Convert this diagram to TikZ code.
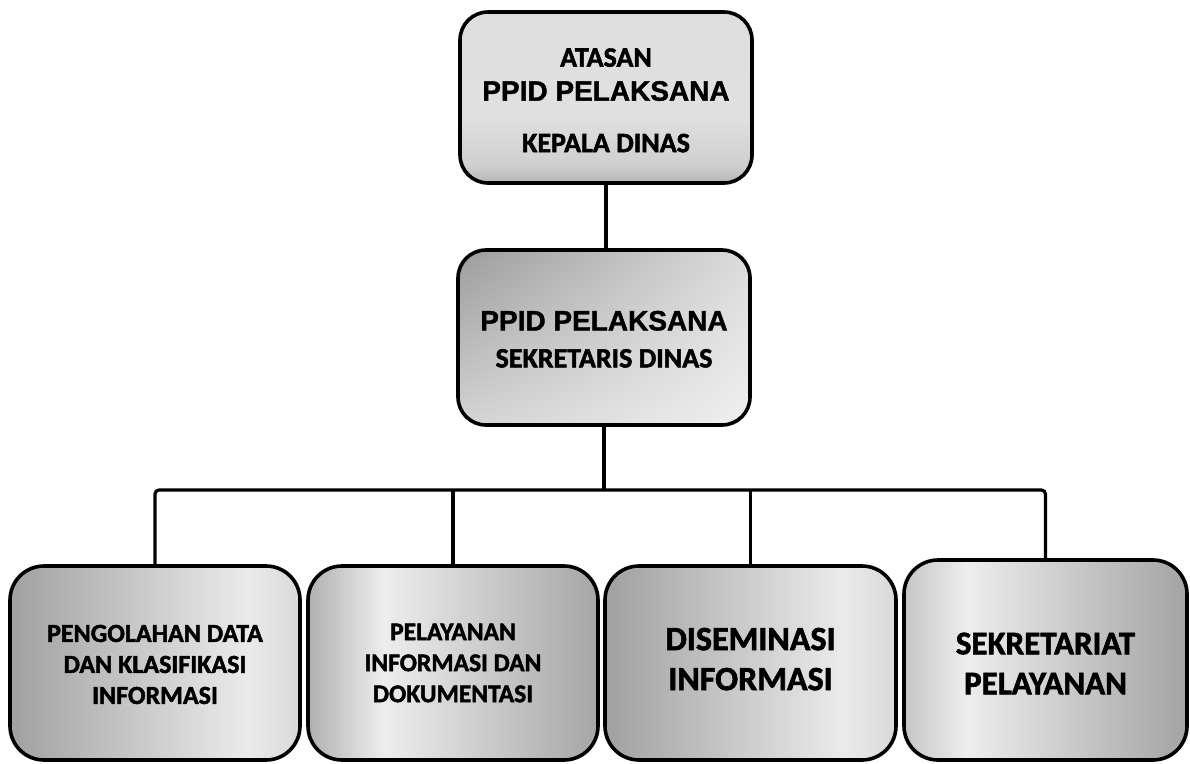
\documentclass[tikz,border=0pt]{standalone}
\usepackage{fontspec}
\usetikzlibrary{shadings}
\setmainfont{Carlito}[BoldFeatures={FakeBold=1.8}]
\newfontfamily\arialf{Liberation Sans}[BoldFeatures={FakeBold=1.4}]
\pgfdeclareverticalshading{shTop}{100bp}{color(0bp)=(white!42!gray); color(25bp)=(white!42!gray); color(30bp)=(white!62!gray); color(45bp)=(white!76!gray); color(75bp)=(white!74!gray); color(100bp)=(white!74!gray)}
\pgfdeclarehorizontalshading{shA}{100bp}{color(0bp)=(gray!74); color(25bp)=(gray!74); color(66bp)=(white!84!gray); color(75bp)=(white!70!gray); color(100bp)=(white!70!gray)}
\pgfdeclarehorizontalshading{shB}{100bp}{color(0bp)=(gray!62); color(25bp)=(gray!62); color(38bp)=(white!86!gray); color(75bp)=(gray!70); color(100bp)=(gray!70)}
\pgfdeclarehorizontalshading{shD}{100bp}{color(0bp)=(white!55!gray); color(25bp)=(white!55!gray); color(36bp)=(white!86!gray); color(75bp)=(gray!72); color(100bp)=(gray!72)}
\tikzset{
  box/.style={draw=black, line width=3.6pt, rounded corners=28pt, align=center, inner sep=0pt, shade},
  conn/.style={draw=black, line width=3.2pt},
}
\begin{document}
\begin{tikzpicture}[x=1pt,y=-1pt]
\useasboundingbox (0,0) rectangle (1190,763);
\fill[white] (0,0) rectangle (1190,763);
\node[box, shading=shTop, minimum width=292pt, minimum height=171pt,
      font=\bfseries\fontsize{28}{28}\selectfont] (atasan) at (606,97.5)
  {\rule{0pt}{24pt}ATASAN\\[6pt]{\arialf PPID PELAKSANA}\\[23.5pt]KEPALA DINAS};
\node[box, upper left=gray!78, upper right=white!72!gray, lower left=white!66!gray, lower right=white!88!gray,
      minimum width=292pt, minimum height=175pt,
      font=\bfseries\fontsize{28}{28}\selectfont] (sekdis) at (604,337.5)
  {\rule{0pt}{23pt}{\arialf PPID PELAKSANA}\\[9pt]SEKRETARIS DINAS};
\node[box, shading=shA, rounded corners=34pt, minimum width=290pt, minimum height=194pt,
      font=\bfseries\fontsize{26}{31}\selectfont] (b1) at (155,663)
  {\rule{0pt}{20pt}PENGOLAHAN DATA\\DAN KLASIFIKASI\\INFORMASI};
\node[box, shading=shB, rounded corners=34pt, minimum width=290pt, minimum height=194pt,
      font=\bfseries\fontsize{25.5}{31}\selectfont] (b2) at (453,663)
  {PELAYANAN\\INFORMASI DAN\\DOKUMENTASI};
\node[box, shading=shA, rounded corners=34pt, minimum width=291pt, minimum height=194pt, text depth=8pt,
      font=\bfseries\fontsize{34}{40}\selectfont] (b3) at (750.5,663)
  {DISEMINASI\\INFORMASI};
\node[box, shading=shD, rounded corners=34pt, minimum width=283pt, minimum height=200pt,
      font=\bfseries\fontsize{33}{40}\selectfont] (b4) at (1045.5,660)
  {\rule{0pt}{28.5pt}SEKRETARIAT\\PELAYANAN};
\coordinate (bus) at (0,490);
\draw[conn] (atasan.south) -- (atasan.south |- sekdis.north);
\draw[conn] (sekdis.south) -- (sekdis.south |- bus);
\draw[conn, rounded corners=4pt] (b1.north) -- (b1.north |- bus) -- (b4.north |- bus) -- (b4.north);
\draw[conn] (b2.north) -- (b2.north |- bus);
\draw[conn] (b3.north) -- (b3.north |- bus);
\end{tikzpicture}
\end{document}
